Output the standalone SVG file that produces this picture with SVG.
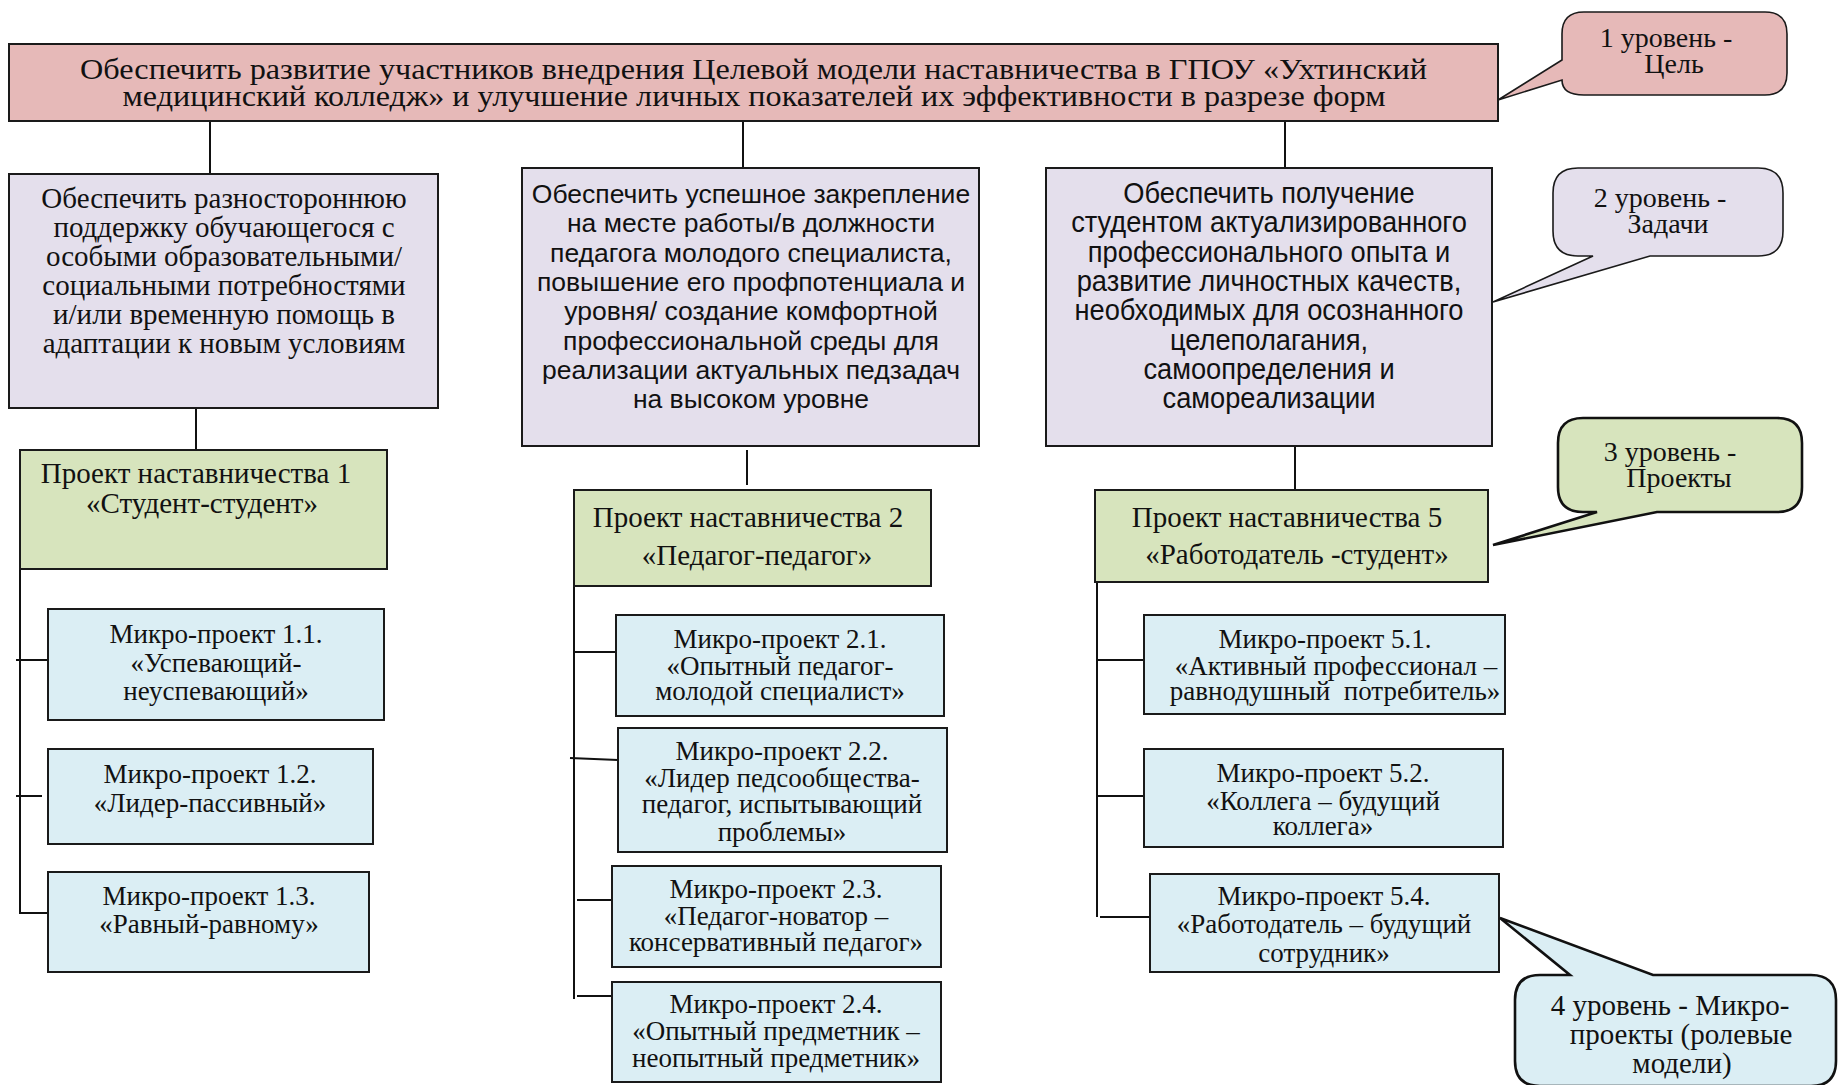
<svg xmlns="http://www.w3.org/2000/svg" width="1838" height="1085" viewBox="0 0 1838 1085">
<style>
.box{stroke:#1a1a1a;stroke-width:2}
.goal{fill:#e6b9b8}
.task{fill:#e4dfec}
.proj{fill:#d7e4bd}
.micro{fill:#dbeef4}
.serif{font-family:"Liberation Serif","Times New Roman",serif;fill:#111}
.sans{font-family:"Liberation Sans",Arial,sans-serif;fill:#111}
.mid{text-anchor:middle}
.conn line{stroke:#111;stroke-width:2}
.call{stroke:#1a1a1a;stroke-width:1.6}
.callb{stroke:#111;stroke-width:2.6}
.ct{font-size:28px}
.pt{font-size:29px}
.mt{font-size:27px}
</style>
<defs>
<clipPath id="c22"><rect x="618" y="728" width="329" height="123"/></clipPath>
<clipPath id="c54"><rect x="1150" y="874" width="349" height="97"/></clipPath>
</defs>

<g class="conn" id="connectors">
<line x1="210" y1="121" x2="210" y2="174"/>
<line x1="743" y1="121" x2="743" y2="168"/>
<line x1="1285" y1="121" x2="1285" y2="168"/>
<line x1="196" y1="408" x2="196" y2="450"/>
<line x1="747" y1="450" x2="747" y2="485"/>
<line x1="1295" y1="446" x2="1295" y2="490"/>
<line x1="20" y1="570" x2="20" y2="914"/>
<line x1="16" y1="660" x2="48" y2="660"/>
<line x1="16" y1="796" x2="42" y2="796"/>
<line x1="20" y1="913" x2="48" y2="913"/>
<line x1="574" y1="586" x2="574" y2="999"/>
<line x1="574" y1="652" x2="616" y2="652"/>
<line x1="570" y1="758" x2="618" y2="760"/>
<line x1="577" y1="900" x2="612" y2="900"/>
<line x1="577" y1="996" x2="612" y2="996"/>
<line x1="1097" y1="582" x2="1097" y2="917"/>
<line x1="1097" y1="660" x2="1144" y2="660"/>
<line x1="1098" y1="796" x2="1144" y2="796"/>
<line x1="1100" y1="917" x2="1150" y2="917"/>
</g>

<g id="goal">
<rect class="box goal" x="9" y="44" width="1489" height="77"/>
<text class="serif mid" font-size="29" x="753.5" y="79" textLength="1347" lengthAdjust="spacingAndGlyphs">Обеспечить развитие участников внедрения Целевой модели наставничества в ГПОУ «Ухтинский</text>
<text class="serif mid" font-size="29" x="754" y="106" textLength="1263" lengthAdjust="spacingAndGlyphs">медицинский колледж» и улучшение личных показателей их эффективности в разрезе форм</text>
</g>

<g id="callout1">
<path class="call goal" d="M1584,12 H1765 Q1787,12 1787,34 V73 Q1787,95 1765,95 H1584 Q1562,95 1562,80 L1498,100 L1562,60 V34 Q1562,12 1584,12 Z"/>
<text class="serif mid ct" x="1666" y="47">1 уровень -</text>
<text class="serif mid ct" x="1674" y="73">Цель</text>
</g>

<g id="task1">
<rect class="box task" x="9" y="174" width="429" height="234"/>
<g class="serif mid" font-size="29">
<text x="224" y="208">Обеспечить разностороннюю</text>
<text x="224" y="237">поддержку обучающегося с</text>
<text x="224" y="266">особыми образовательными/</text>
<text x="224" y="295">социальными потребностями</text>
<text x="224" y="324">и/или временную помощь в</text>
<text x="224" y="353">адаптации к новым условиям</text>
</g>
</g>

<g id="task2">
<rect class="box task" x="522" y="168" width="457" height="278"/>
<g class="sans mid" font-size="26.5">
<text x="751" y="203">Обеспечить успешное закрепление</text>
<text x="751" y="232">на месте работы/в должности</text>
<text x="751" y="262">педагога молодого специалиста,</text>
<text x="751" y="291">повышение его профпотенциала и</text>
<text x="751" y="320">уровня/ создание комфортной</text>
<text x="751" y="350">профессиональной среды для</text>
<text x="751" y="379">реализации актуальных педзадач</text>
<text x="751" y="408">на высоком уровне</text>
</g>
</g>

<g id="task3">
<rect class="box task" x="1046" y="168" width="446" height="278"/>
<g class="sans mid" font-size="29" transform="translate(1269 0) scale(0.94 1)">
<text x="0" y="203">Обеспечить получение</text>
<text x="0" y="232">студентом актуализированного</text>
<text x="0" y="262">профессионального опыта и</text>
<text x="0" y="291">развитие личностных качеств,</text>
<text x="0" y="320">необходимых для осознанного</text>
<text x="0" y="350">целеполагания,</text>
<text x="0" y="379">самоопределения и</text>
<text x="0" y="408">самореализации</text>
</g>
</g>

<g id="callout2">
<path class="call task" d="M1578,168 H1758 Q1783,168 1783,193 V231 Q1783,256 1758,256 H1650 L1493,302 L1593,256 H1578 Q1553,256 1553,231 V193 Q1553,168 1578,168 Z"/>
<text class="serif mid ct" x="1660" y="207">2 уровень -</text>
<text class="serif mid ct" x="1668" y="233">Задачи</text>
</g>

<g id="project1">
<rect class="box proj" x="20" y="450" width="367" height="119"/>
<text class="serif mid pt" x="196" y="483">Проект наставничества 1</text>
<text class="serif mid pt" x="202" y="513">«Студент-студент»</text>
</g>

<g id="project2">
<rect class="box proj" x="574" y="490" width="357" height="96"/>
<text class="serif mid pt" x="748" y="527">Проект наставничества 2</text>
<text class="serif mid pt" x="757" y="565">«Педагог-педагог»</text>
</g>

<g id="project5">
<rect class="box proj" x="1095" y="490" width="393" height="92"/>
<text class="serif mid pt" x="1287" y="527">Проект наставничества 5</text>
<text class="serif mid pt" x="1297" y="564">«Работодатель -студент»</text>
</g>

<g id="callout3">
<path class="callb proj" d="M1583,418 H1777 Q1802,418 1802,443 V487 Q1802,512 1777,512 H1657 L1493,545 L1597,512 H1583 Q1558,512 1558,487 V443 Q1558,418 1583,418 Z"/>
<text class="serif mid ct" x="1670" y="461">3 уровень -</text>
<text class="serif mid ct" x="1679" y="487">Проекты</text>
</g>

<g id="micro11">
<rect class="box micro" x="48" y="609" width="336" height="111"/>
<g class="serif mid mt"><text x="216" y="643">Микро-проект 1.1.</text><text x="216" y="672">«Успевающий-</text><text x="216" y="700">неуспевающий»</text></g>
</g>
<g id="micro12">
<rect class="box micro" x="48" y="749" width="325" height="95"/>
<g class="serif mid mt"><text x="210" y="783">Микро-проект 1.2.</text><text x="210" y="812">«Лидер-пассивный»</text></g>
</g>
<g id="micro13">
<rect class="box micro" x="48" y="872" width="321" height="100"/>
<g class="serif mid mt"><text x="209" y="905">Микро-проект 1.3.</text><text x="209" y="933">«Равный-равному»</text></g>
</g>

<g id="micro21">
<rect class="box micro" x="616" y="615" width="328" height="101"/>
<g class="serif mid mt"><text x="780" y="648">Микро-проект 2.1.</text><text x="780" y="675">«Опытный педагог-</text><text x="780" y="700">молодой специалист»</text></g>
</g>
<g id="micro22">
<rect class="box micro" x="618" y="728" width="329" height="124"/>
<g class="serif mid mt" clip-path="url(#c22)"><text x="782" y="760">Микро-проект 2.2.</text><text x="782" y="787">«Лидер педсообщества-</text><text x="782" y="813">педагог, испытывающий</text><text x="782" y="841">проблемы»</text></g>
</g>
<g id="micro23">
<rect class="box micro" x="612" y="866" width="329" height="101"/>
<g class="serif mid mt"><text x="776" y="898">Микро-проект 2.3.</text><text x="776" y="925">«Педагог-новатор –</text><text x="776" y="951">консервативный педагог»</text></g>
</g>
<g id="micro24">
<rect class="box micro" x="612" y="982" width="329" height="100"/>
<g class="serif mid mt"><text x="776" y="1013">Микро-проект 2.4.</text><text x="776" y="1040">«Опытный предметник –</text><text x="776" y="1067">неопытный предметник»</text></g>
</g>

<g id="micro51">
<rect class="box micro" x="1144" y="615" width="361" height="99"/>
<g class="serif mid mt"><text x="1325" y="648">Микро-проект 5.1.</text><text x="1336" y="675">«Активный профессионал –</text><text x="1335" y="700" xml:space="preserve">равнодушный  потребитель»</text></g>
</g>
<g id="micro52">
<rect class="box micro" x="1144" y="749" width="359" height="98"/>
<g class="serif mid mt"><text x="1323" y="782">Микро-проект 5.2.</text><text x="1323" y="810">«Коллега – будущий</text><text x="1323" y="835">коллега»</text></g>
</g>
<g id="micro54">
<rect class="box micro" x="1150" y="874" width="349" height="98"/>
<g class="serif mid mt" clip-path="url(#c54)"><text x="1324" y="905">Микро-проект 5.4.</text><text x="1324" y="933">«Работодатель – будущий</text><text x="1324" y="962">сотрудник»</text></g>
</g>

<g id="callout4">
<path class="callb micro" d="M1540,975 H1570 L1500,918 L1653,975 H1811 Q1836,975 1836,1000 V1061 Q1836,1086 1811,1086 H1540 Q1515,1086 1515,1061 V1000 Q1515,975 1540,975 Z"/>
<text class="serif mid" font-size="29" x="1670" y="1015">4 уровень - Микро-</text>
<text class="serif mid" font-size="29" x="1681" y="1044">проекты (ролевые</text>
<text class="serif mid" font-size="29" x="1682" y="1073">модели)</text>
</g>
</svg>
